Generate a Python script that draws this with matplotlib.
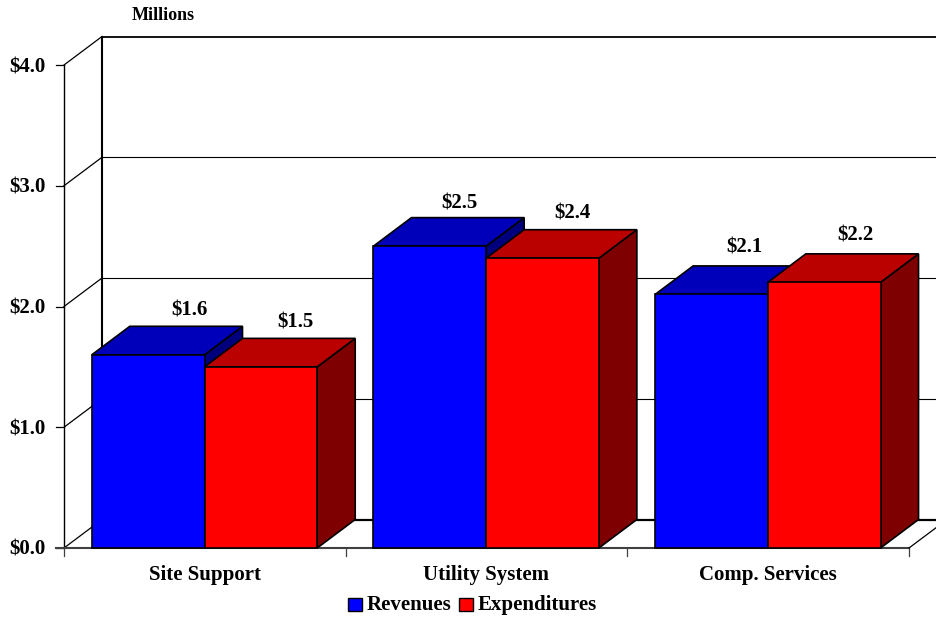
import matplotlib
matplotlib.use("Agg")
import matplotlib.pyplot as plt
from matplotlib.patches import Polygon, Rectangle

categories = ["Site Support", "Utility System", "Comp. Services"]
revenues = [1.6, 2.5, 2.1]
expenditures = [1.5, 2.4, 2.2]
rev_labels = ["$1.6", "$2.5", "$2.1"]
exp_labels = ["$1.5", "$2.4", "$2.2"]
y_ticks = [0, 1, 2, 3, 4]
y_labels = ["$0.0", "$1.0", "$2.0", "$3.0", "$4.0"]

# label offsets from the bar's front centre / back top edge, in pixels
rev_off = [(41, 11), (30, 9), (33, 13)]
exp_off = [(34.5, 11), (30, 11), (31, 13)]

plt.rcParams['font.family'] = ['Liberation Serif', 'DejaVu Serif']
W, H = 936, 617
fig = plt.figure(figsize=(W/100, H/100), dpi=100, facecolor='white')
ax = fig.add_axes([64/W, (H-548)/H, 845/W, 483/H])
ax.set_xlim(0, 3)
ax.set_ylim(0, 4)
ax.axis('off')

px = 3/845      # data x per pixel
py = 4/483      # data y per pixel
dx, dy = 38*px, 28.5*py
XR = (937-64)*px

# walls
ax.plot([0, 0], [0, 4], color='k', lw=1, clip_on=False, zorder=1)
ax.plot([dx, dx], [dy, 4+dy], color='k', lw=1.5, clip_on=False, zorder=1)
for t in y_ticks:
    ax.plot([dx, XR], [t+dy, t+dy], color='k', lw=1.6 if t == 0 else (1.3 if t == 4 else 0.8), clip_on=False, zorder=1)
    ax.plot([0, dx], [t, t+dy], color='k', lw=0.9, clip_on=False, zorder=1)
    ax.plot([-8*px, 0], [t, t], color='k', lw=0.9, clip_on=False, zorder=1)
    ax.text(-18.5*px, t-7*py, y_labels[t], ha='right', va='baseline', fontsize=15, fontweight='bold', clip_on=False)
ax.plot([-8*px, 3], [0, 0], color='#404040', lw=1.5, clip_on=False, zorder=1)
for i in range(4):
    ax.plot([i, i], [0, -8*py], color='#404040', lw=0.9, clip_on=False, zorder=1)
ax.plot([3, 3+dx], [0, dy], color='k', lw=0.9, clip_on=False, zorder=1)

bw = 112.7*px
off = 27.8*px


def bar3d(x, v, front, top, side):
    kw = dict(edgecolor='k', lw=1.2, joinstyle='miter', clip_on=False, zorder=3)
    ax.add_patch(Polygon([(x+bw, 0), (x+bw+dx, dy), (x+bw+dx, v+dy), (x+bw, v)], facecolor=side, **kw))
    ax.add_patch(Polygon([(x, v), (x+dx, v+dy), (x+bw+dx, v+dy), (x+bw, v)], facecolor=top, **kw))
    ax.add_patch(Rectangle((x, 0), bw, v, facecolor=front, **kw))


for i, c in enumerate(categories):
    x0 = i + off
    bar3d(x0, revenues[i], '#0000FF', '#0000BB', '#00007F')
    bar3d(x0+bw, expenditures[i], '#FF0000', '#BB0000', '#7F0000')
    ax.text(x0+bw/2+rev_off[i][0]*px, revenues[i]+dy+rev_off[i][1]*py, rev_labels[i],
            ha='center', va='baseline', fontsize=15, fontweight='bold', zorder=5)
    ax.text(x0+1.5*bw+exp_off[i][0]*px, expenditures[i]+dy+exp_off[i][1]*py, exp_labels[i],
            ha='center', va='baseline', fontsize=15, fontweight='bold', zorder=5)
    ax.text(i+0.5, -32*py, c, ha='center', va='baseline', fontsize=15, fontweight='bold', clip_on=False)

ax.text((163-64)*px, (548-20)*py, "Millions", ha='center', va='baseline', fontsize=13, fontweight='bold', clip_on=False)

# legend
for xpix, col, lab in [(348, '#0000FF', 'Revenues'), (459, '#FF0000', 'Expenditures')]:
    ax.add_patch(Rectangle(((xpix-64)*px, -(611-548)*py), 14*px, 13*py, facecolor=col, edgecolor='k', lw=1, clip_on=False))
    ax.text((xpix+19-64)*px, -62*py, lab, ha='left', va='baseline', fontsize=15, fontweight='bold', clip_on=False)

fig.savefig('out.png', dpi=100, facecolor='white')
